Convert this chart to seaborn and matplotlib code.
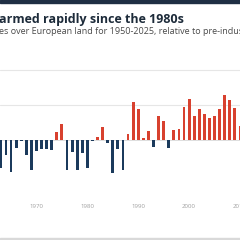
import matplotlib
matplotlib.use("Agg")
import matplotlib.pyplot as plt
import numpy as np
import pandas as pd
import seaborn as sns
from matplotlib.patches import Rectangle

# Visible part of the series (annual anomaly, degC)
years = list(range(1963, 2011))
anomaly = [
    -0.79, -0.44, -0.90, -0.23, -0.02, -0.43, -0.86, -0.30, -0.27, -0.25,
    -0.29, 0.24, 0.45, -0.86, -0.33, -0.86, -0.38, -0.80, -0.02, 0.09,
    0.37, -0.09, -0.94, -0.27, -0.87, 0.17, 1.09, 0.88, 0.06, 0.25,
    -0.21, 0.70, 0.53, -0.24, 0.29, 0.31, 0.93, 1.16, 0.69, 0.88,
    0.73, 0.63, 0.69, 0.88, 1.28, 1.14, 0.91, 0.40,
]
tick_years = [1970, 1980, 1990, 2000, 2010]
tick_labels = ["1970", "1980", "1990", "2000", "2010"]
grid_levels = [1, 2]

title_text = "armed rapidly since the 1980s"
subtitle_text = "es over European land for 1950-2025, relative to pre-industrial"

warm_color = "#d8412f"
cold_color = "#1b3a5c"

df = pd.DataFrame({"year": [str(y) for y in years], "anomaly": anomaly})
df["sign"] = np.where(df["anomaly"] >= 0, "warm", "cold")

sns.set_theme(style="white")
plt.rcParams["font.family"] = ["Open Sans", "DejaVu Sans"]

W = H = 240
fig = plt.figure(figsize=(2.4, 2.4), dpi=100)
fig.patch.set_facecolor("white")

# axes box in pixel rows 60..178
ax = fig.add_axes([0, (H - 178) / H, 1, (178 - 60) / H])
sns.barplot(data=df, x="year", y="anomaly", hue="sign",
            order=df["year"], palette={"warm": warm_color, "cold": cold_color},
            dodge=False, width=0.56, saturation=1, linewidth=0,
            legend=False, ax=ax, zorder=3)

# categorical positions: index 0 = first year
first = years[0]
ax.set_xlim(-0.17, 46.98)
ax.set_ylim(-38 / 35, 80 / 35)
ax.set_yticks(grid_levels)
ax.set_yticklabels([])
ax.yaxis.grid(True, color="#e6e6e6", linewidth=0.8, zorder=0)
ax.axhline(0, color="#d0d0d0", linewidth=0.5, zorder=2)
ax.set_xticks([y - first for y in tick_years])
ax.set_xticklabels(tick_labels, fontsize=4.4, color="#a0a0a0")
ax.tick_params(axis="x", length=0, pad=19)
ax.tick_params(axis="y", length=0)
ax.set_xlabel("")
ax.set_ylabel("")
sns.despine(ax=ax, left=True, bottom=True)

# header strip and footer rule
fig.patches.append(Rectangle((0, 1 - 3 / H), 1, 3 / H, transform=fig.transFigure,
                             color="#1f2f44", zorder=5))
fig.patches.append(Rectangle((0, 0), 1, 2 / H, transform=fig.transFigure,
                             color="#d9d9d9", zorder=5))

fig.text(-1 / W, 1 - 23 / H, title_text, fontsize=9, fontweight="bold",
         color="#1d2b3a", ha="left", va="baseline")
fig.text(-1 / W, 1 - 34 / H, subtitle_text, fontsize=6.5,
         color="#4a4a4a", ha="left", va="baseline")

fig.savefig("out.png", dpi=100)
